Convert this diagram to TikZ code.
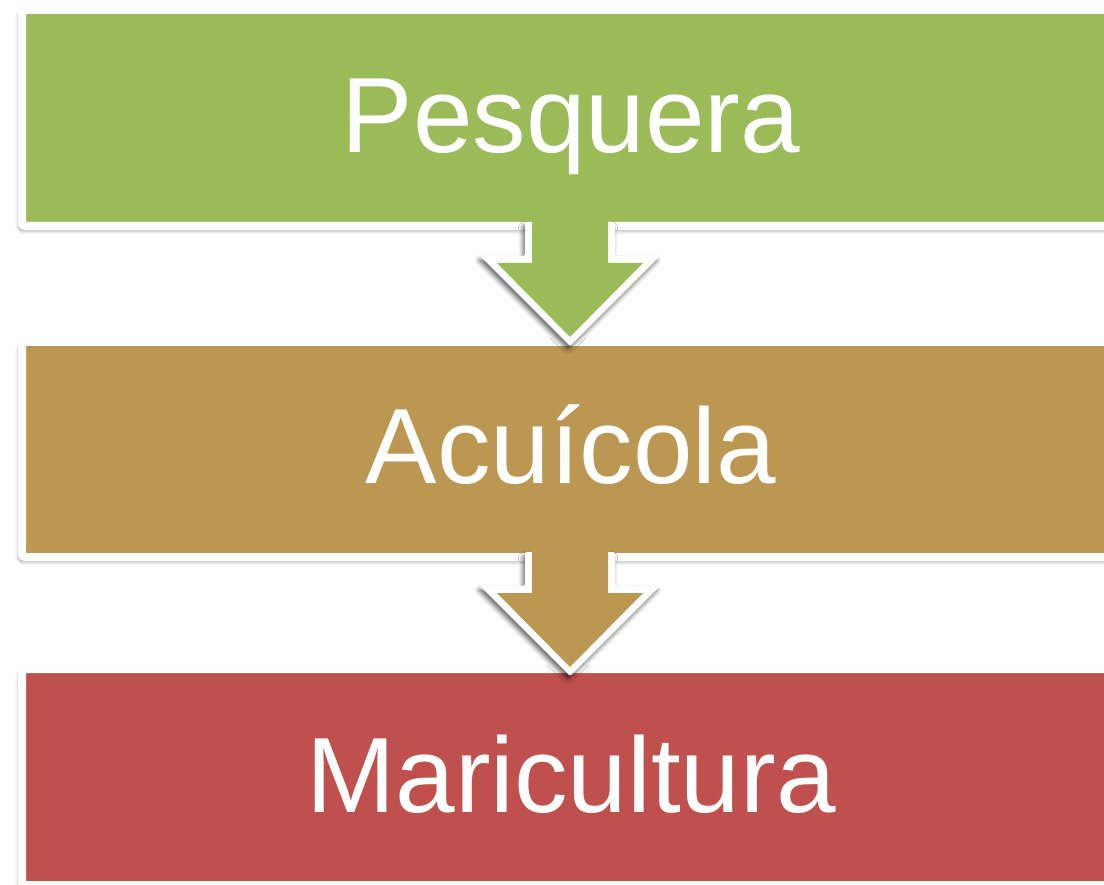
\documentclass[tikz,border=0pt]{standalone}
\usepackage{fontspec}
\setmainfont{Liberation Sans}
\usetikzlibrary{shadows.blur}
\definecolor{cgreen}{HTML}{9BBB59}
\definecolor{ctan}{HTML}{BC9752}
\definecolor{cred}{HTML}{C0504D}
\tikzset{
  boxshape/.style={draw=white, line width=8pt, rounded corners=3pt,
    blur shadow={shadow xshift=-2pt, shadow yshift=-3.5pt, shadow blur radius=4.5pt, shadow opacity=60}},
  arrowout/.style={fill=white, rounded corners=2pt,
    blur shadow={shadow xshift=-2pt, shadow yshift=-3.5pt, shadow blur radius=4.5pt, shadow opacity=60}},
  label/.style={text=white, font=\fontsize{107}{110}\selectfont, anchor=base, inner sep=0pt}
}
\begin{document}
\begin{tikzpicture}[x=1pt, y=-1pt]
\useasboundingbox (0,0) rectangle (1104,885);
\begin{scope}
\clip (0,0) rectangle (1104,885);
% boxes
\path[boxshape, fill=cgreen] (22,10) rectangle (1120,226);
\path[boxshape, fill=ctan] (22,342) rectangle (1120,557);
\path[boxshape, fill=cred] (22,669) rectangle (1120,885);
% arrows
\foreach \dy/\col in {0/cgreen, 330/ctan} {
  \begin{scope}[yshift=-\dy pt]
    \path[arrowout] (525,222) -- (525,256) -- (480,256) -- (570,346) -- (660,256) -- (615,256) -- (615,222) -- cycle;
    \fill[\col] (532,214) -- (532,263) -- (497,263) -- (570,337) -- (643,263) -- (608,263) -- (608,214) -- cycle;
  \end{scope}
}
\end{scope}
\node[label] (p) at (571,153) {Pesquera};
\node[label] (a) at (571,483) {Acuícola};
\node[label] (m) at (571,812) {Maricultura};
\end{tikzpicture}
\end{document}
